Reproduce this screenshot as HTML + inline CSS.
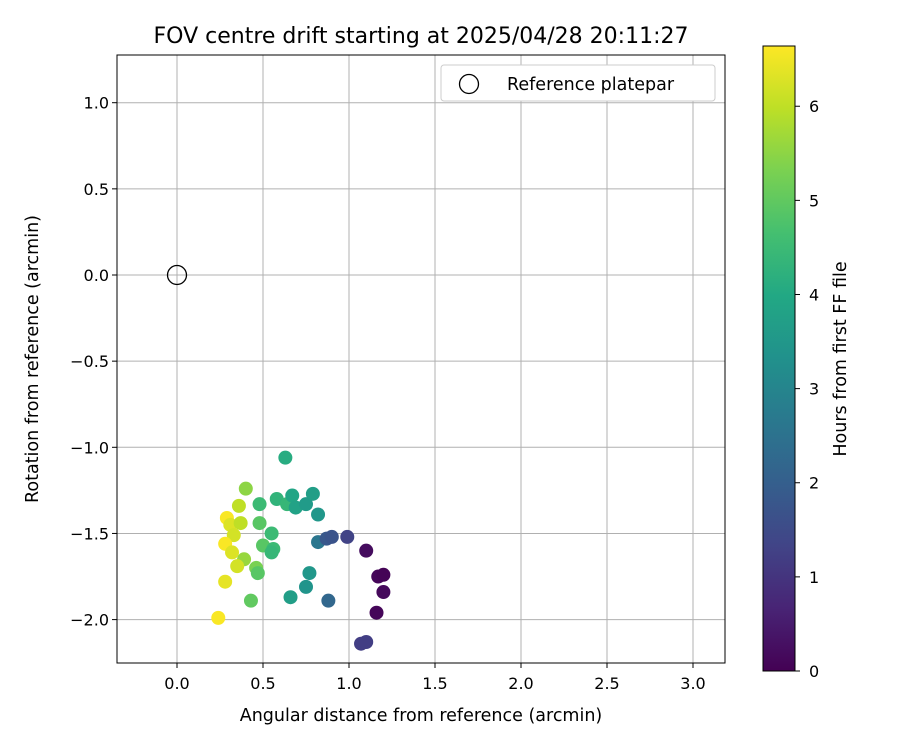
<!DOCTYPE html>
<html><head><meta charset="utf-8"><style>
body{margin:0;background:#fff;}
svg text{font-family:"DejaVu Sans","Liberation Sans",sans-serif;fill:#000;}
</style></head><body>
<svg id="chart" width="900" height="750" xmlns="http://www.w3.org/2000/svg">
<defs>
<linearGradient id="vir" x1="0" y1="1" x2="0" y2="0">
<stop offset="0" stop-color="#440154"/><stop offset="0.1" stop-color="#482475"/><stop offset="0.2" stop-color="#414487"/><stop offset="0.3" stop-color="#355f8d"/><stop offset="0.4" stop-color="#2a788e"/><stop offset="0.5" stop-color="#21918c"/><stop offset="0.6" stop-color="#22a884"/><stop offset="0.7" stop-color="#44bf70"/><stop offset="0.8" stop-color="#7ad151"/><stop offset="0.9" stop-color="#bddf26"/><stop offset="1" stop-color="#fde725"/>
</linearGradient>
</defs>
<g id="grid"></g>
<g id="pts"></g>
<rect x="117" y="55" width="608" height="608" fill="none" stroke="#000" stroke-width="1"/>
<g id="xt"></g>
<g id="yt"></g>
<text x="421" y="43" font-size="22" text-anchor="middle">FOV centre drift starting at 2025/04/28 20:11:27</text>
<text x="421" y="721" font-size="17.5" text-anchor="middle">Angular distance from reference (arcmin)</text>
<text transform="translate(38,359) rotate(-90)" font-size="17.5" text-anchor="middle">Rotation from reference (arcmin)</text>
<g>
<rect x="441" y="65" width="274" height="36" rx="3" fill="#fff" stroke="#ccc"/>
<circle cx="469" cy="84" r="9.5" fill="none" stroke="#000" stroke-width="1.3"/>
<text x="507" y="90" font-size="17.5">Reference platepar</text>
</g>
<rect x="763" y="46" width="32" height="625" fill="url(#vir)" stroke="#000" stroke-width="1"/>
<g id="ct"></g>
<text transform="translate(846,359) rotate(-90)" font-size="17.5" text-anchor="middle">Hours from first FF file</text>
</svg>
<script>
const xVals=[0.63,0.40,0.48,0.58,0.64,0.67,0.69,0.75,0.79,0.82,0.36,0.29,0.31,0.37,0.33,0.48,0.55,0.82,0.87,0.90,0.99,0.28,0.50,0.56,0.55,0.32,0.39,0.35,0.46,0.47,0.77,1.10,1.17,1.20,1.20,0.28,0.75,0.66,0.43,0.88,1.16,0.24,1.07,1.10];
const yVals=[-1.06,-1.24,-1.33,-1.30,-1.33,-1.28,-1.35,-1.33,-1.27,-1.39,-1.34,-1.41,-1.45,-1.44,-1.51,-1.44,-1.50,-1.55,-1.53,-1.52,-1.52,-1.56,-1.57,-1.59,-1.61,-1.61,-1.65,-1.69,-1.70,-1.73,-1.73,-1.60,-1.75,-1.74,-1.84,-1.78,-1.81,-1.87,-1.89,-1.89,-1.96,-1.99,-2.14,-2.13];
const hours=[4.1,5.5,4.5,4.3,4.4,3.9,3.8,3.6,3.7,3.5,6.0,6.6,6.3,6.0,6.2,4.9,4.5,2.6,1.8,1.7,1.3,6.6,4.9,4.5,4.4,6.3,5.6,6.2,5.3,4.9,3.5,0.2,0.1,0.05,0.15,6.4,3.4,3.7,5.0,2.2,0.1,6.6,1.2,1.2];
const xTicks=[0.0,0.5,1.0,1.5,2.0,2.5,3.0];
const yTicks=[1.0,0.5,0.0,-0.5,-1.0,-1.5,-2.0];
const cTicks=[0,1,2,3,4,5,6];
const hMax=6.64;
const NS="http://www.w3.org/2000/svg";
const X=v=>177+v*172;
const Y=v=>275-v*172.3;
const C=h=>671-h/hMax*625;
const vir=["#440154","#482475","#414487","#355f8d","#2a788e","#21918c","#22a884","#44bf70","#7ad151","#bddf26","#fde725"];
function col(h){let t=Math.max(0,Math.min(1,h/hMax))*10;let i=Math.min(9,Math.floor(t)),f=t-i;
const a=vir[i],b=vir[i+1];let r=[1,3,5].map(k=>Math.round(parseInt(a.substr(k,2),16)*(1-f)+parseInt(b.substr(k,2),16)*f));return `rgb(${r.join(',')})`;}
function mk(tag,attrs,parent){const e=document.createElementNS(NS,tag);for(const k in attrs)e.setAttribute(k,attrs[k]);parent.appendChild(e);return e;}
const fmt=v=>(v<0?"\u2212":"")+Math.abs(v).toFixed(1);
const grid=document.getElementById('grid'),xt=document.getElementById('xt'),yt=document.getElementById('yt'),ct=document.getElementById('ct'),pts=document.getElementById('pts');
xTicks.forEach(v=>{
 const g=mk('line',{x1:X(v),x2:X(v),y1:55,y2:663,stroke:'#b0b0b0','stroke-width':1},grid);
 
 
 mk('line',{x1:X(v),x2:X(v),y1:663,y2:668,stroke:'#000'},xt);
 const t=mk('text',{x:X(v),y:689,'font-size':16,'text-anchor':'middle'},xt);t.textContent=fmt(v);
 
 
});
yTicks.forEach(v=>{
 const g=mk('line',{x1:117,x2:725,y1:Y(v),y2:Y(v),stroke:'#b0b0b0','stroke-width':1},grid);
 
 
 mk('line',{x1:112,x2:117,y1:Y(v),y2:Y(v),stroke:'#000'},yt);
 const t=mk('text',{x:109,y:Y(v)+6,'font-size':16,'text-anchor':'end'},yt);t.textContent=fmt(v);
 
 
});
cTicks.forEach(v=>{
 mk('line',{x1:795,x2:800,y1:C(v),y2:C(v),stroke:'#000'},ct);
 const t=mk('text',{x:809,y:C(v)+6,'font-size':16},ct);t.textContent=String(v);
 
 
});
xVals.forEach((x,i)=>{
 const c=mk('circle',{cx:X(x),cy:Y(yVals[i]),r:7,fill:col(hours[i])},pts);
 
 
});
const ref=mk('circle',{cx:X(0),cy:Y(0),r:9.5,fill:'none',stroke:'#000','stroke-width':1.3},pts);


</script>
</body></html>
